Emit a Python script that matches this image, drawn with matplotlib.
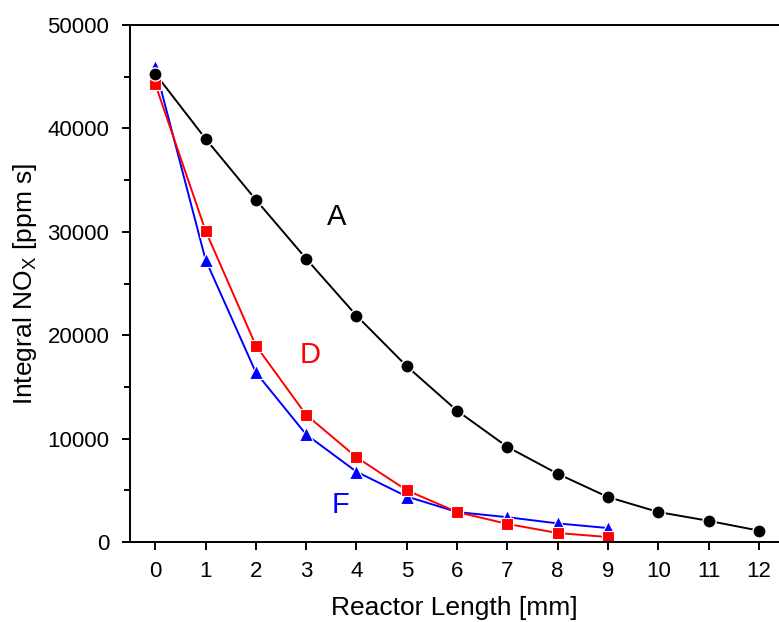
import matplotlib.pyplot as plt
import numpy as np

plt.rcParams['font.family'] = ['Liberation Sans', 'DejaVu Sans']

# reactor length positions
len_a = np.arange(0, 13)
len_df = np.arange(0, 10)

# integral NOx values (ppm s)
nox_a = [45300, 39000, 33100, 27400, 21900, 17000, 12700, 9200, 6600, 4350, 2900, 2050, 1100]
nox_d = [44300, 30100, 19000, 12300, 8200, 5000, 2900, 1750, 870, 480]
nox_f = [45900, 27300, 16400, 10400, 6800, 4400, 2900, 2400, 1800, 1350]

fig = plt.figure(figsize=(7.79, 6.22), dpi=100)
ax = fig.add_axes([0.167, 0.1286, 0.833, 0.8312])

# lines first, markers on top of all lines
ax.plot(len_a, nox_a, '-', color='black', lw=1.4, zorder=1)
ax.plot(len_df, nox_f, '-', color='blue', lw=1.4, zorder=1)
ax.plot(len_df, nox_d, '-', color='red', lw=1.4, zorder=1)
ax.plot(len_df, nox_f, '^', color='blue', ms=10.5, mec='white', mew=0.8, zorder=2)
ax.plot(len_df, nox_d, 's', color='red', ms=8.3, mec='white', mew=0.8, zorder=2.5)
ax.plot(len_a, nox_a, 'o', color='black', ms=9.5, mec='white', mew=1.0, zorder=3)

ax.text(3.6, 31400, 'A', color='black', fontsize=21, ha='center', va='center')
ax.text(3.08, 18100, 'D', color='red', fontsize=21, ha='center', va='center')
ax.text(3.68, 3600, 'F', color='blue', fontsize=21, ha='center', va='center')

ax.set_xlim(-0.5, 12.4)
ax.set_ylim(0, 50000)
ax.set_xticks(range(0, 13))
ax.set_yticks(range(0, 50001, 10000))
ax.set_yticks(range(5000, 50000, 10000), minor=True)

ax.spines['right'].set_visible(False)
for s in ['left', 'bottom', 'top']:
    ax.spines[s].set_linewidth(1.4)

ax.tick_params(which='major', direction='out', length=6, width=1.4, labelsize=16, top=False, right=False)
ax.tick_params(axis='x', pad=8)
ax.tick_params(axis='y', pad=9)
ax.tick_params(which='minor', direction='out', length=4, width=1.4)

ax.set_xlabel('Reactor Length [mm]', fontsize=19, labelpad=10)
ax.set_ylabel('Integral NO$_\\mathregular{X}$ [ppm s]', fontsize=19, labelpad=6)

fig.savefig('out.png', dpi=100)
